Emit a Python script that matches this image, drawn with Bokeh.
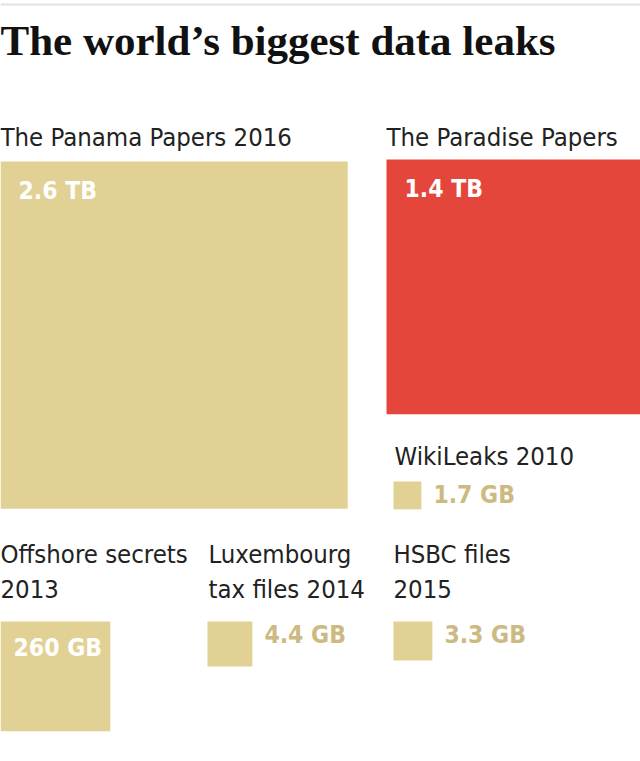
from bokeh.plotting import figure
from bokeh.models import Range1d
from bokeh.core.properties import value
from bokeh.embed import file_html
from bokeh.resources import INLINE
import math

# ---- data ----
leak_names = ["The Panama Papers 2016", "The Paradise Papers", "WikiLeaks 2010",
              "Offshore secrets\n2013", "Luxembourg\ntax files 2014", "HSBC files\n2015"]
leak_size_gb = [2600, 1400, 1.7, 260, 4.4, 3.3]
leak_size_labels = ["2.6 TB", "1.4 TB", "1.7 GB", "260 GB", "4.4 GB", "3.3 GB"]
highlight = [False, True, False, False, False, False]

# ---- layout (positions in px, y downward) ----
sq_left = [0, 386, 393, 0, 207, 393]
sq_top = [161, 159, 481, 621, 621, 621]
name_x = [0, 386, 394, 0, 208, 393]
name_base = [146, 146, 465, 563, 563, 563]
inside = [True, True, False, True, False, False]
big_scale = 6.81    # px per sqrt(GB) for large leaks
small_scale = 21.4  # magnified scale for the small leaks
scale_of = [big_scale, big_scale, small_scale, big_scale, small_scale, small_scale]

W, H = 640, 761
SANS = value("'Liberation Sans Narrow', 'DejaVu Sans Condensed', 'Roboto', sans-serif")
BASE_FIX = 0.36  # baseline correction (em)

p = figure(width=W, height=H, output_backend="svg", toolbar_location=None,
           x_range=Range1d(0, W), y_range=Range1d(H, 0), min_border=0)
p.axis.visible = False
p.grid.visible = False
p.outline_line_color = None
p.background_fill_color = "white"
p.border_fill_color = "white"

# top rule
p.segment(x0=[0], y0=[4], x1=[W], y1=[4], line_color="#e2e2e2", line_width=2)

# title
TS = 43
p.text(x=[0], y=[55 - BASE_FIX * TS], text=["The world\u2019s biggest data leaks"],
       text_font=value("Liberation Serif"), text_font_style="bold",
       text_font_size=f"{TS}px", text_color="#111111", text_baseline="alphabetic")

# squares
L, R, T, B, C = [], [], [], [], []
for i, gb in enumerate(leak_size_gb):
    side = scale_of[i] * math.sqrt(gb)
    L.append(sq_left[i]); R.append(sq_left[i] + side)
    T.append(sq_top[i]); B.append(sq_top[i] + side)
    C.append("#e5463c" if highlight[i] else "#e2d194")
p.quad(left=L, right=R, top=T, bottom=B, fill_color=C, line_color=None)

# names
NS = 25.5
nx, ny, nt = [], [], []
for i, n in enumerate(leak_names):
    for j, line in enumerate(n.split("\n")):
        nx.append(name_x[i]); ny.append(name_base[i] + 35 * j - BASE_FIX * NS); nt.append(line)
p.text(x=nx, y=ny, text=nt, text_font=SANS, text_font_size=f"{NS}px",
       text_color="#222222", text_baseline="alphabetic")

# value labels
VS = 24.5
vx, vy, vt, vc = [], [], [], []
for i, lab in enumerate(leak_size_labels):
    side = scale_of[i] * math.sqrt(leak_size_gb[i])
    if inside[i]:
        vx.append(sq_left[i] + (18 if side > 200 else 13))
        vy.append(sq_top[i] + (38 if side > 200 else 35) - BASE_FIX * VS)
        vc.append("#ffffff")
    else:
        vx.append(sq_left[i] + side + 12)
        vy.append(sq_top[i] + 22 - BASE_FIX * VS)
        vc.append("#ccba82")
    vt.append(lab)
p.text(x=vx, y=vy, text=vt, text_font=SANS, text_font_style="bold",
       text_font_size=f"{VS}px", text_color=vc, text_baseline="alphabetic")

open("out.html", "w").write(file_html(p, INLINE))
